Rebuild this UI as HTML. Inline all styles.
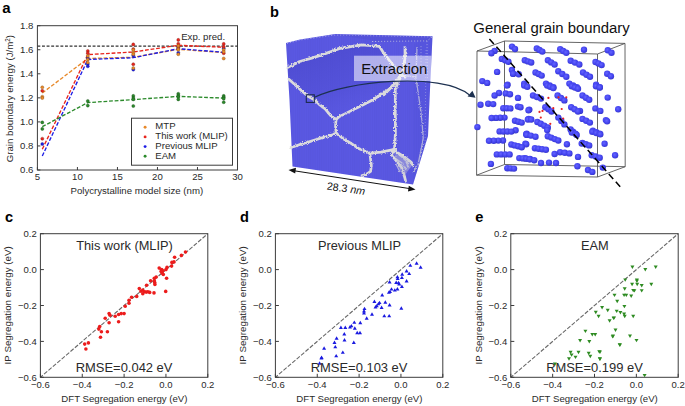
<!DOCTYPE html>
<html><head><meta charset="utf-8"><style>
html,body{margin:0;padding:0;background:#fff;}
svg{display:block;font-family:"Liberation Sans",sans-serif;}
</style></head><body>
<svg width="685" height="406" viewBox="0 0 685 406">
<defs>
<radialGradient id="sph" cx="0.42" cy="0.4" r="0.62"><stop offset="0" stop-color="#6464ff"/><stop offset="0.6" stop-color="#4545f0"/><stop offset="0.9" stop-color="#3a3ad8"/><stop offset="1" stop-color="#3030c0"/></radialGradient>
<pattern id="stripes" width="2.2" height="4" patternUnits="userSpaceOnUse"><rect width="1.1" height="4" fill="#3c3ab0" opacity="0.07"/></pattern>
<linearGradient id="grainAB" x1="0" y1="0" x2="0.4" y2="1"><stop offset="0" stop-color="#4240c0" stop-opacity="0.55"/><stop offset="0.7" stop-color="#4a48cc" stop-opacity="0.3"/><stop offset="1" stop-color="#5a58e2" stop-opacity="0.1"/></linearGradient>
<filter id="rough" x="-5%" y="-5%" width="110%" height="110%"><feTurbulence type="fractalNoise" baseFrequency="0.9" numOctaves="2" seed="4" result="n"/><feDisplacementMap in="SourceGraphic" in2="n" scale="3.2" xChannelSelector="R" yChannelSelector="G"/><feGaussianBlur stdDeviation="0.25"/></filter>
</defs>
<text x="37.40" y="180.10" font-size="9.6" text-anchor="middle" font-weight="400" fill="#2a2a2a" >5</text>
<text x="77.42" y="180.10" font-size="9.6" text-anchor="middle" font-weight="400" fill="#2a2a2a" >10</text>
<text x="117.44" y="180.10" font-size="9.6" text-anchor="middle" font-weight="400" fill="#2a2a2a" >15</text>
<text x="157.46" y="180.10" font-size="9.6" text-anchor="middle" font-weight="400" fill="#2a2a2a" >20</text>
<text x="197.48" y="180.10" font-size="9.6" text-anchor="middle" font-weight="400" fill="#2a2a2a" >25</text>
<text x="237.50" y="180.10" font-size="9.6" text-anchor="middle" font-weight="400" fill="#2a2a2a" >30</text>
<text x="33.40" y="173.45" font-size="9.6" text-anchor="end" font-weight="400" fill="#2a2a2a" >0.6</text>
<text x="33.40" y="149.40" font-size="9.6" text-anchor="end" font-weight="400" fill="#2a2a2a" >0.8</text>
<text x="33.40" y="125.35" font-size="9.6" text-anchor="end" font-weight="400" fill="#2a2a2a" >1.0</text>
<text x="33.40" y="101.30" font-size="9.6" text-anchor="end" font-weight="400" fill="#2a2a2a" >1.2</text>
<text x="33.40" y="77.25" font-size="9.6" text-anchor="end" font-weight="400" fill="#2a2a2a" >1.4</text>
<text x="33.40" y="53.20" font-size="9.6" text-anchor="end" font-weight="400" fill="#2a2a2a" >1.6</text>
<text x="33.40" y="29.15" font-size="9.6" text-anchor="end" font-weight="400" fill="#2a2a2a" >1.8</text>
<g stroke="#3c3c3c" stroke-width="1" fill="none"><line x1="37.40" y1="170.0" x2="37.40" y2="167.0" /><line x1="77.42" y1="170.0" x2="77.42" y2="167.0" /><line x1="117.44" y1="170.0" x2="117.44" y2="167.0" /><line x1="157.46" y1="170.0" x2="157.46" y2="167.0" /><line x1="197.48" y1="170.0" x2="197.48" y2="167.0" /><line x1="237.50" y1="170.0" x2="237.50" y2="167.0" /><line x1="37.4" y1="170.00" x2="40.4" y2="170.00" /><line x1="37.4" y1="145.95" x2="40.4" y2="145.95" /><line x1="37.4" y1="121.90" x2="40.4" y2="121.90" /><line x1="37.4" y1="97.85" x2="40.4" y2="97.85" /><line x1="37.4" y1="73.80" x2="40.4" y2="73.80" /><line x1="37.4" y1="49.75" x2="40.4" y2="49.75" /><line x1="37.4" y1="25.70" x2="40.4" y2="25.70" /><rect x="37.4" y="25.7" width="200.10" height="144.30"/></g>
<line x1="37.4" y1="46.1" x2="237.5" y2="46.1" stroke="#333" stroke-width="1.1" stroke-dasharray="2.9 1.7"/>
<text x="181.20" y="39.70" font-size="9.65" text-anchor="start" font-weight="400" fill="#2a2a2a" >Exp. pred.</text>
<path d="M42.3,93.0 L87.8,58.5 L133.3,57.3 L178.3,49.3 L223.7,52.6" fill="none" stroke="#e8892a" stroke-width="1.35" stroke-dasharray="3.8 1.8"/>
<path d="M42.3,149.2 L87.8,54.6 L133.3,52.0 L178.3,45.3 L223.7,47.3" fill="none" stroke="#e8251d" stroke-width="1.35" stroke-dasharray="3.8 1.8"/>
<path d="M42.3,156.0 L87.8,59.5 L133.3,57.7 L178.3,48.7 L223.7,52.3" fill="none" stroke="#1c1ce6" stroke-width="1.35" stroke-dasharray="3.8 1.8"/>
<path d="M42.3,126.7 L87.8,102.6 L133.3,99.6 L178.3,96.4 L223.7,98.1" fill="none" stroke="#2b8a2b" stroke-width="1.35" stroke-dasharray="3.8 1.8"/>
<circle cx="42.3" cy="122.4" r="1.55" fill="#2b8a2b" stroke="#1a4a1a" stroke-width="0.45" stroke-opacity="0.8"/><circle cx="42.3" cy="128.9" r="1.55" fill="#2b8a2b" stroke="#1a4a1a" stroke-width="0.45" stroke-opacity="0.8"/><circle cx="87.8" cy="101" r="1.55" fill="#2b8a2b" stroke="#1a4a1a" stroke-width="0.45" stroke-opacity="0.8"/><circle cx="87.8" cy="105.6" r="1.55" fill="#2b8a2b" stroke="#1a4a1a" stroke-width="0.45" stroke-opacity="0.8"/><circle cx="133.3" cy="95.9" r="1.55" fill="#2b8a2b" stroke="#1a4a1a" stroke-width="0.45" stroke-opacity="0.8"/><circle cx="133.3" cy="98.1" r="1.55" fill="#2b8a2b" stroke="#1a4a1a" stroke-width="0.45" stroke-opacity="0.8"/><circle cx="133.3" cy="99.4" r="1.55" fill="#2b8a2b" stroke="#1a4a1a" stroke-width="0.45" stroke-opacity="0.8"/><circle cx="133.3" cy="106" r="1.55" fill="#2b8a2b" stroke="#1a4a1a" stroke-width="0.45" stroke-opacity="0.8"/><circle cx="178.3" cy="93.8" r="1.55" fill="#2b8a2b" stroke="#1a4a1a" stroke-width="0.45" stroke-opacity="0.8"/><circle cx="178.3" cy="95.5" r="1.55" fill="#2b8a2b" stroke="#1a4a1a" stroke-width="0.45" stroke-opacity="0.8"/><circle cx="178.3" cy="96.9" r="1.55" fill="#2b8a2b" stroke="#1a4a1a" stroke-width="0.45" stroke-opacity="0.8"/><circle cx="178.3" cy="99.4" r="1.55" fill="#2b8a2b" stroke="#1a4a1a" stroke-width="0.45" stroke-opacity="0.8"/><circle cx="223.7" cy="95.9" r="1.55" fill="#2b8a2b" stroke="#1a4a1a" stroke-width="0.45" stroke-opacity="0.8"/><circle cx="223.7" cy="97.3" r="1.55" fill="#2b8a2b" stroke="#1a4a1a" stroke-width="0.45" stroke-opacity="0.8"/><circle cx="223.7" cy="98.7" r="1.55" fill="#2b8a2b" stroke="#1a4a1a" stroke-width="0.45" stroke-opacity="0.8"/><circle cx="223.7" cy="102.2" r="1.55" fill="#2b8a2b" stroke="#1a4a1a" stroke-width="0.45" stroke-opacity="0.8"/>
<circle cx="42.3" cy="144" r="1.55" fill="#1c1ce6" stroke="#14147a" stroke-width="0.45" stroke-opacity="0.8"/><circle cx="87.8" cy="58" r="1.55" fill="#1c1ce6" stroke="#14147a" stroke-width="0.45" stroke-opacity="0.8"/><circle cx="87.8" cy="64" r="1.55" fill="#1c1ce6" stroke="#14147a" stroke-width="0.45" stroke-opacity="0.8"/><circle cx="87.8" cy="66.3" r="1.55" fill="#1c1ce6" stroke="#14147a" stroke-width="0.45" stroke-opacity="0.8"/><circle cx="133.3" cy="55.5" r="1.55" fill="#1c1ce6" stroke="#14147a" stroke-width="0.45" stroke-opacity="0.8"/><circle cx="133.3" cy="69.6" r="1.55" fill="#1c1ce6" stroke="#14147a" stroke-width="0.45" stroke-opacity="0.8"/><circle cx="178.3" cy="47.5" r="1.55" fill="#1c1ce6" stroke="#14147a" stroke-width="0.45" stroke-opacity="0.8"/><circle cx="178.3" cy="52.7" r="1.55" fill="#1c1ce6" stroke="#14147a" stroke-width="0.45" stroke-opacity="0.8"/><circle cx="223.7" cy="48.3" r="1.55" fill="#1c1ce6" stroke="#14147a" stroke-width="0.45" stroke-opacity="0.8"/>
<circle cx="42.3" cy="90.8" r="1.55" fill="#e8251d" stroke="#7a1a14" stroke-width="0.45" stroke-opacity="0.8"/><circle cx="42.3" cy="138.7" r="1.55" fill="#e8251d" stroke="#7a1a14" stroke-width="0.45" stroke-opacity="0.8"/><circle cx="87.8" cy="51" r="1.55" fill="#e8251d" stroke="#7a1a14" stroke-width="0.45" stroke-opacity="0.8"/><circle cx="87.8" cy="53.2" r="1.55" fill="#e8251d" stroke="#7a1a14" stroke-width="0.45" stroke-opacity="0.8"/><circle cx="133.3" cy="44.4" r="1.55" fill="#e8251d" stroke="#7a1a14" stroke-width="0.45" stroke-opacity="0.8"/><circle cx="133.3" cy="49" r="1.55" fill="#e8251d" stroke="#7a1a14" stroke-width="0.45" stroke-opacity="0.8"/><circle cx="133.3" cy="64.2" r="1.55" fill="#e8251d" stroke="#7a1a14" stroke-width="0.45" stroke-opacity="0.8"/><circle cx="178.3" cy="39.9" r="1.55" fill="#e8251d" stroke="#7a1a14" stroke-width="0.45" stroke-opacity="0.8"/><circle cx="178.3" cy="43.8" r="1.55" fill="#e8251d" stroke="#7a1a14" stroke-width="0.45" stroke-opacity="0.8"/><circle cx="178.3" cy="46.8" r="1.55" fill="#e8251d" stroke="#7a1a14" stroke-width="0.45" stroke-opacity="0.8"/><circle cx="223.7" cy="43.9" r="1.55" fill="#e8251d" stroke="#7a1a14" stroke-width="0.45" stroke-opacity="0.8"/><circle cx="223.7" cy="46.8" r="1.55" fill="#e8251d" stroke="#7a1a14" stroke-width="0.45" stroke-opacity="0.8"/><circle cx="223.7" cy="53.2" r="1.55" fill="#e8251d" stroke="#7a1a14" stroke-width="0.45" stroke-opacity="0.8"/>
<circle cx="42.3" cy="87.3" r="1.55" fill="#e8892a" stroke="#7a4a14" stroke-width="0.45" stroke-opacity="0.8"/><circle cx="42.3" cy="96.7" r="1.55" fill="#e8892a" stroke="#7a4a14" stroke-width="0.45" stroke-opacity="0.8"/><circle cx="42.3" cy="98.0" r="1.55" fill="#e8892a" stroke="#7a4a14" stroke-width="0.45" stroke-opacity="0.8"/><circle cx="87.8" cy="56" r="1.55" fill="#e8892a" stroke="#7a4a14" stroke-width="0.45" stroke-opacity="0.8"/><circle cx="87.8" cy="59.5" r="1.55" fill="#e8892a" stroke="#7a4a14" stroke-width="0.45" stroke-opacity="0.8"/><circle cx="87.8" cy="62.5" r="1.55" fill="#e8892a" stroke="#7a4a14" stroke-width="0.45" stroke-opacity="0.8"/><circle cx="133.3" cy="49.9" r="1.55" fill="#e8892a" stroke="#7a4a14" stroke-width="0.45" stroke-opacity="0.8"/><circle cx="133.3" cy="52.8" r="1.55" fill="#e8892a" stroke="#7a4a14" stroke-width="0.45" stroke-opacity="0.8"/><circle cx="133.3" cy="54.3" r="1.55" fill="#e8892a" stroke="#7a4a14" stroke-width="0.45" stroke-opacity="0.8"/><circle cx="133.3" cy="68.1" r="1.55" fill="#e8892a" stroke="#7a4a14" stroke-width="0.45" stroke-opacity="0.8"/><circle cx="178.3" cy="45.8" r="1.55" fill="#e8892a" stroke="#7a4a14" stroke-width="0.45" stroke-opacity="0.8"/><circle cx="178.3" cy="48.8" r="1.55" fill="#e8892a" stroke="#7a4a14" stroke-width="0.45" stroke-opacity="0.8"/><circle cx="178.3" cy="49.7" r="1.55" fill="#e8892a" stroke="#7a4a14" stroke-width="0.45" stroke-opacity="0.8"/><circle cx="178.3" cy="54.2" r="1.55" fill="#e8892a" stroke="#7a4a14" stroke-width="0.45" stroke-opacity="0.8"/><circle cx="223.7" cy="49.8" r="1.55" fill="#e8892a" stroke="#7a4a14" stroke-width="0.45" stroke-opacity="0.8"/><circle cx="223.7" cy="51.8" r="1.55" fill="#e8892a" stroke="#7a4a14" stroke-width="0.45" stroke-opacity="0.8"/><circle cx="223.7" cy="58.5" r="1.55" fill="#e8892a" stroke="#7a4a14" stroke-width="0.45" stroke-opacity="0.8"/>
<rect x="131.5" y="118.2" width="101" height="47" fill="#fff" stroke="#3c3c3c" stroke-width="1"/>
<circle cx="145.1" cy="127.2" r="1.45" fill="#e8892a"/>
<text x="155.30" y="129.10" font-size="9.6" text-anchor="start" font-weight="400" fill="#2a2a2a" >MTP</text>
<circle cx="145.1" cy="136.9" r="1.45" fill="#e8251d"/>
<text x="155.30" y="139.17" font-size="9.6" text-anchor="start" font-weight="400" fill="#2a2a2a" >This work (MLIP)</text>
<circle cx="145.1" cy="146.6" r="1.45" fill="#1c1ce6"/>
<text x="155.30" y="149.24" font-size="9.6" text-anchor="start" font-weight="400" fill="#2a2a2a" >Previous MLIP</text>
<circle cx="145.1" cy="156.3" r="1.45" fill="#2b8a2b"/>
<text x="155.30" y="159.31" font-size="9.6" text-anchor="start" font-weight="400" fill="#2a2a2a" >EAM</text>
<text x="136.80" y="194.20" font-size="9.65" text-anchor="middle" font-weight="400" fill="#2a2a2a" >Polycrystalline model size (nm)</text>
<text transform="translate(12.9,98.6) rotate(-90)" font-size="9.7" text-anchor="middle" fill="#2a2a2a">Grain boundary energy (J/m<tspan font-size="6.3" dy="-3.4">2</tspan><tspan dy="3.4">)</tspan></text>
<text x="2.20" y="12.70" font-size="15" text-anchor="start" font-weight="700" fill="#000" >a</text>
<text x="270.00" y="17.00" font-size="14.6" text-anchor="start" font-weight="700" fill="#000" >b</text>
<text x="40.40" y="388.30" font-size="9.5" text-anchor="middle" font-weight="400" fill="#2a2a2a" >−0.6</text>
<text x="36.80" y="380.70" font-size="9.5" text-anchor="end" font-weight="400" fill="#2a2a2a" >−0.6</text>
<text x="82.25" y="388.30" font-size="9.5" text-anchor="middle" font-weight="400" fill="#2a2a2a" >−0.4</text>
<text x="36.80" y="344.80" font-size="9.5" text-anchor="end" font-weight="400" fill="#2a2a2a" >−0.4</text>
<text x="124.10" y="388.30" font-size="9.5" text-anchor="middle" font-weight="400" fill="#2a2a2a" >−0.2</text>
<text x="36.80" y="308.90" font-size="9.5" text-anchor="end" font-weight="400" fill="#2a2a2a" >−0.2</text>
<text x="165.95" y="388.30" font-size="9.5" text-anchor="middle" font-weight="400" fill="#2a2a2a" >0.0</text>
<text x="36.80" y="273.00" font-size="9.5" text-anchor="end" font-weight="400" fill="#2a2a2a" >0.0</text>
<text x="207.80" y="388.30" font-size="9.5" text-anchor="middle" font-weight="400" fill="#2a2a2a" >0.2</text>
<text x="36.80" y="237.10" font-size="9.5" text-anchor="end" font-weight="400" fill="#2a2a2a" >0.2</text>
<line x1="40.4" y1="377.3" x2="207.8" y2="233.7" stroke="#686868" stroke-width="1.1" stroke-dasharray="4.2 1.6" stroke-dashoffset="1.0"/>
<g stroke="#3c3c3c" stroke-width="1" fill="none"><line x1="40.40" y1="377.3" x2="40.40" y2="373.8"/><line x1="40.4" y1="377.30" x2="43.9" y2="377.30"/><line x1="82.25" y1="377.3" x2="82.25" y2="373.8"/><line x1="40.4" y1="341.40" x2="43.9" y2="341.40"/><line x1="124.10" y1="377.3" x2="124.10" y2="373.8"/><line x1="40.4" y1="305.50" x2="43.9" y2="305.50"/><line x1="165.95" y1="377.3" x2="165.95" y2="373.8"/><line x1="40.4" y1="269.60" x2="43.9" y2="269.60"/><line x1="207.80" y1="377.3" x2="207.80" y2="373.8"/><line x1="40.4" y1="233.70" x2="43.9" y2="233.70"/><rect x="40.4" y="233.7" width="167.40" height="143.60"/></g>
<circle cx="185.5" cy="252.0" r="1.8" fill="#ec1c1c"/><circle cx="181.4" cy="255.4" r="1.8" fill="#ec1c1c"/><circle cx="174.6" cy="257.2" r="1.8" fill="#ec1c1c"/><circle cx="174.0" cy="261.9" r="1.8" fill="#ec1c1c"/><circle cx="171.9" cy="262.4" r="1.8" fill="#ec1c1c"/><circle cx="171.6" cy="266.1" r="1.8" fill="#ec1c1c"/><circle cx="167.0" cy="267.4" r="1.8" fill="#ec1c1c"/><circle cx="166.0" cy="269.6" r="1.8" fill="#ec1c1c"/><circle cx="159.2" cy="268.1" r="1.8" fill="#ec1c1c"/><circle cx="161.7" cy="269.6" r="1.8" fill="#ec1c1c"/><circle cx="162.9" cy="270.8" r="1.8" fill="#ec1c1c"/><circle cx="161.1" cy="271.4" r="1.8" fill="#ec1c1c"/><circle cx="162.3" cy="273.3" r="1.8" fill="#ec1c1c"/><circle cx="163.3" cy="274.5" r="1.8" fill="#ec1c1c"/><circle cx="166.6" cy="278.2" r="1.8" fill="#ec1c1c"/><circle cx="156.2" cy="277.0" r="1.8" fill="#ec1c1c"/><circle cx="154.3" cy="278.2" r="1.8" fill="#ec1c1c"/><circle cx="154.3" cy="280.7" r="1.8" fill="#ec1c1c"/><circle cx="154.7" cy="282.5" r="1.8" fill="#ec1c1c"/><circle cx="154.9" cy="284.4" r="1.8" fill="#ec1c1c"/><circle cx="150.6" cy="280.7" r="1.8" fill="#ec1c1c"/><circle cx="165.7" cy="291.4" r="1.8" fill="#ec1c1c"/><circle cx="154.0" cy="292.9" r="1.8" fill="#ec1c1c"/><circle cx="139.3" cy="288.6" r="1.8" fill="#ec1c1c"/><circle cx="141.0" cy="291.2" r="1.8" fill="#ec1c1c"/><circle cx="142.8" cy="293.8" r="1.8" fill="#ec1c1c"/><circle cx="146.2" cy="292.1" r="1.8" fill="#ec1c1c"/><circle cx="149.7" cy="292.4" r="1.8" fill="#ec1c1c"/><circle cx="136.7" cy="296.4" r="1.8" fill="#ec1c1c"/><circle cx="131.6" cy="297.2" r="1.8" fill="#ec1c1c"/><circle cx="129.0" cy="300.3" r="1.8" fill="#ec1c1c"/><circle cx="129.0" cy="303.3" r="1.8" fill="#ec1c1c"/><circle cx="125.2" cy="306.2" r="1.8" fill="#ec1c1c"/><circle cx="109.1" cy="313.6" r="1.8" fill="#ec1c1c"/><circle cx="110.0" cy="315.3" r="1.8" fill="#ec1c1c"/><circle cx="115.2" cy="316.2" r="1.8" fill="#ec1c1c"/><circle cx="118.6" cy="314.5" r="1.8" fill="#ec1c1c"/><circle cx="121.2" cy="313.6" r="1.8" fill="#ec1c1c"/><circle cx="124.1" cy="313.6" r="1.8" fill="#ec1c1c"/><circle cx="105.2" cy="318.3" r="1.8" fill="#ec1c1c"/><circle cx="109.1" cy="322.8" r="1.8" fill="#ec1c1c"/><circle cx="118.6" cy="321.7" r="1.8" fill="#ec1c1c"/><circle cx="99.7" cy="326.6" r="1.8" fill="#ec1c1c"/><circle cx="98.8" cy="329.1" r="1.8" fill="#ec1c1c"/><circle cx="101.4" cy="331.7" r="1.8" fill="#ec1c1c"/><circle cx="107.4" cy="331.7" r="1.8" fill="#ec1c1c"/><circle cx="100.5" cy="337.2" r="1.8" fill="#ec1c1c"/><circle cx="88.4" cy="342.9" r="1.8" fill="#ec1c1c"/><circle cx="84.7" cy="344.1" r="1.8" fill="#ec1c1c"/><circle cx="85.9" cy="349.0" r="1.8" fill="#ec1c1c"/><circle cx="146.6" cy="285.3" r="1.8" fill="#ec1c1c"/><circle cx="142.8" cy="290.0" r="1.8" fill="#ec1c1c"/><circle cx="144.5" cy="291.7" r="1.8" fill="#ec1c1c"/><circle cx="147.9" cy="291.7" r="1.8" fill="#ec1c1c"/>
<text x="124.50" y="250.20" font-size="12.8" text-anchor="middle" font-weight="400" fill="#2a2a2a" >This work (MLIP)</text>
<text x="124.10" y="372.20" font-size="12.95" text-anchor="middle" font-weight="400" fill="#2a2a2a" >RMSE=0.042 eV</text>
<text x="124.40" y="402.20" font-size="9.65" text-anchor="middle" font-weight="400" fill="#2a2a2a" >DFT Segregation energy (eV)</text>
<text transform="translate(11.10,305.30) rotate(-90)" font-size="9.78" text-anchor="middle" fill="#2a2a2a">IP Segregation energy (eV)</text>
<text x="4.90" y="221.90" font-size="14.6" text-anchor="start" font-weight="700" fill="#000" >c</text>
<text x="275.40" y="388.30" font-size="9.5" text-anchor="middle" font-weight="400" fill="#2a2a2a" >−0.6</text>
<text x="271.80" y="380.70" font-size="9.5" text-anchor="end" font-weight="400" fill="#2a2a2a" >−0.6</text>
<text x="317.25" y="388.30" font-size="9.5" text-anchor="middle" font-weight="400" fill="#2a2a2a" >−0.4</text>
<text x="271.80" y="344.80" font-size="9.5" text-anchor="end" font-weight="400" fill="#2a2a2a" >−0.4</text>
<text x="359.10" y="388.30" font-size="9.5" text-anchor="middle" font-weight="400" fill="#2a2a2a" >−0.2</text>
<text x="271.80" y="308.90" font-size="9.5" text-anchor="end" font-weight="400" fill="#2a2a2a" >−0.2</text>
<text x="400.95" y="388.30" font-size="9.5" text-anchor="middle" font-weight="400" fill="#2a2a2a" >0.0</text>
<text x="271.80" y="273.00" font-size="9.5" text-anchor="end" font-weight="400" fill="#2a2a2a" >0.0</text>
<text x="442.80" y="388.30" font-size="9.5" text-anchor="middle" font-weight="400" fill="#2a2a2a" >0.2</text>
<text x="271.80" y="237.10" font-size="9.5" text-anchor="end" font-weight="400" fill="#2a2a2a" >0.2</text>
<line x1="275.4" y1="377.3" x2="442.79999999999995" y2="233.7" stroke="#686868" stroke-width="1.1" stroke-dasharray="4.2 1.6" stroke-dashoffset="1.0"/>
<g stroke="#3c3c3c" stroke-width="1" fill="none"><line x1="275.40" y1="377.3" x2="275.40" y2="373.8"/><line x1="275.4" y1="377.30" x2="278.9" y2="377.30"/><line x1="317.25" y1="377.3" x2="317.25" y2="373.8"/><line x1="275.4" y1="341.40" x2="278.9" y2="341.40"/><line x1="359.10" y1="377.3" x2="359.10" y2="373.8"/><line x1="275.4" y1="305.50" x2="278.9" y2="305.50"/><line x1="400.95" y1="377.3" x2="400.95" y2="373.8"/><line x1="275.4" y1="269.60" x2="278.9" y2="269.60"/><line x1="442.80" y1="377.3" x2="442.80" y2="373.8"/><line x1="275.4" y1="233.70" x2="278.9" y2="233.70"/><rect x="275.4" y="233.7" width="167.40" height="143.60"/></g>
<path d="M416.6,261.3l2,3.4h-4z" fill="#1a1ae0"/><path d="M420.6,265.3l2,3.4h-4z" fill="#1a1ae0"/><path d="M410.3,263.4l2,3.4h-4z" fill="#1a1ae0"/><path d="M406.6,269.0l2,3.4h-4z" fill="#1a1ae0"/><path d="M409.2,271.7l2,3.4h-4z" fill="#1a1ae0"/><path d="M402.2,272.3l2,3.4h-4z" fill="#1a1ae0"/><path d="M401.9,275.7l2,3.4h-4z" fill="#1a1ae0"/><path d="M397.4,274.9l2,3.4h-4z" fill="#1a1ae0"/><path d="M397.7,276.7l2,3.4h-4z" fill="#1a1ae0"/><path d="M406.6,279.1l2,3.4h-4z" fill="#1a1ae0"/><path d="M396.2,280.5l2,3.4h-4z" fill="#1a1ae0"/><path d="M398.5,280.8l2,3.4h-4z" fill="#1a1ae0"/><path d="M399.2,282.0l2,3.4h-4z" fill="#1a1ae0"/><path d="M401.9,284.5l2,3.4h-4z" fill="#1a1ae0"/><path d="M389.6,280.1l2,3.4h-4z" fill="#1a1ae0"/><path d="M397.4,287.0l2,3.4h-4z" fill="#1a1ae0"/><path d="M394.8,288.2l2,3.4h-4z" fill="#1a1ae0"/><path d="M391.5,287.2l2,3.4h-4z" fill="#1a1ae0"/><path d="M390.0,289.7l2,3.4h-4z" fill="#1a1ae0"/><path d="M388.9,290.4l2,3.4h-4z" fill="#1a1ae0"/><path d="M382.2,293.1l2,3.4h-4z" fill="#1a1ae0"/><path d="M374.4,299.5l2,3.4h-4z" fill="#1a1ae0"/><path d="M379.5,300.7l2,3.4h-4z" fill="#1a1ae0"/><path d="M378.4,301.9l2,3.4h-4z" fill="#1a1ae0"/><path d="M385.3,300.3l2,3.4h-4z" fill="#1a1ae0"/><path d="M376.8,303.9l2,3.4h-4z" fill="#1a1ae0"/><path d="M375.5,305.1l2,3.4h-4z" fill="#1a1ae0"/><path d="M381.6,305.5l2,3.4h-4z" fill="#1a1ae0"/><path d="M389.6,303.0l2,3.4h-4z" fill="#1a1ae0"/><path d="M401.3,306.3l2,3.4h-4z" fill="#1a1ae0"/><path d="M364.5,306.7l2,3.4h-4z" fill="#1a1ae0"/><path d="M364.0,309.1l2,3.4h-4z" fill="#1a1ae0"/><path d="M364.0,311.0l2,3.4h-4z" fill="#1a1ae0"/><path d="M372.0,312.3l2,3.4h-4z" fill="#1a1ae0"/><path d="M384.3,313.9l2,3.4h-4z" fill="#1a1ae0"/><path d="M389.2,313.9l2,3.4h-4z" fill="#1a1ae0"/><path d="M366.7,316.3l2,3.4h-4z" fill="#1a1ae0"/><path d="M360.3,320.8l2,3.4h-4z" fill="#1a1ae0"/><path d="M354.3,320.4l2,3.4h-4z" fill="#1a1ae0"/><path d="M351.4,323.9l2,3.4h-4z" fill="#1a1ae0"/><path d="M350.0,325.1l2,3.4h-4z" fill="#1a1ae0"/><path d="M354.8,326.3l2,3.4h-4z" fill="#1a1ae0"/><path d="M345.3,325.6l2,3.4h-4z" fill="#1a1ae0"/><path d="M340.9,325.6l2,3.4h-4z" fill="#1a1ae0"/><path d="M357.2,330.8l2,3.4h-4z" fill="#1a1ae0"/><path d="M360.0,330.8l2,3.4h-4z" fill="#1a1ae0"/><path d="M344.3,332.0l2,3.4h-4z" fill="#1a1ae0"/><path d="M344.5,338.0l2,3.4h-4z" fill="#1a1ae0"/><path d="M336.6,336.3l2,3.4h-4z" fill="#1a1ae0"/><path d="M334.5,340.6l2,3.4h-4z" fill="#1a1ae0"/><path d="M335.3,344.9l2,3.4h-4z" fill="#1a1ae0"/><path d="M353.8,340.6l2,3.4h-4z" fill="#1a1ae0"/><path d="M324.1,346.3l2,3.4h-4z" fill="#1a1ae0"/><path d="M342.8,350.4l2,3.4h-4z" fill="#1a1ae0"/><path d="M336.2,353.9l2,3.4h-4z" fill="#1a1ae0"/><path d="M321.6,355.6l2,3.4h-4z" fill="#1a1ae0"/><path d="M321.4,356.1l2,3.4h-4z" fill="#1a1ae0"/><path d="M319.6,361.3l2,3.4h-4z" fill="#1a1ae0"/>
<text x="359.50" y="250.20" font-size="12.8" text-anchor="middle" font-weight="400" fill="#2a2a2a" >Previous MLIP</text>
<text x="359.10" y="372.20" font-size="12.95" text-anchor="middle" font-weight="400" fill="#2a2a2a" >RMSE=0.103 eV</text>
<text x="359.40" y="402.20" font-size="9.65" text-anchor="middle" font-weight="400" fill="#2a2a2a" >DFT Segregation energy (eV)</text>
<text transform="translate(246.10,305.30) rotate(-90)" font-size="9.78" text-anchor="middle" fill="#2a2a2a">IP Segregation energy (eV)</text>
<text x="239.90" y="221.90" font-size="14.6" text-anchor="start" font-weight="700" fill="#000" >d</text>
<text x="510.80" y="388.30" font-size="9.5" text-anchor="middle" font-weight="400" fill="#2a2a2a" >−0.6</text>
<text x="507.20" y="380.70" font-size="9.5" text-anchor="end" font-weight="400" fill="#2a2a2a" >−0.6</text>
<text x="552.65" y="388.30" font-size="9.5" text-anchor="middle" font-weight="400" fill="#2a2a2a" >−0.4</text>
<text x="507.20" y="344.80" font-size="9.5" text-anchor="end" font-weight="400" fill="#2a2a2a" >−0.4</text>
<text x="594.50" y="388.30" font-size="9.5" text-anchor="middle" font-weight="400" fill="#2a2a2a" >−0.2</text>
<text x="507.20" y="308.90" font-size="9.5" text-anchor="end" font-weight="400" fill="#2a2a2a" >−0.2</text>
<text x="636.35" y="388.30" font-size="9.5" text-anchor="middle" font-weight="400" fill="#2a2a2a" >0.0</text>
<text x="507.20" y="273.00" font-size="9.5" text-anchor="end" font-weight="400" fill="#2a2a2a" >0.0</text>
<text x="678.20" y="388.30" font-size="9.5" text-anchor="middle" font-weight="400" fill="#2a2a2a" >0.2</text>
<text x="507.20" y="237.10" font-size="9.5" text-anchor="end" font-weight="400" fill="#2a2a2a" >0.2</text>
<line x1="510.8" y1="377.3" x2="678.2" y2="233.7" stroke="#686868" stroke-width="1.1" stroke-dasharray="4.2 1.6" stroke-dashoffset="1.0"/>
<g stroke="#3c3c3c" stroke-width="1" fill="none"><line x1="510.80" y1="377.3" x2="510.80" y2="373.8"/><line x1="510.8" y1="377.30" x2="514.3" y2="377.30"/><line x1="552.65" y1="377.3" x2="552.65" y2="373.8"/><line x1="510.8" y1="341.40" x2="514.3" y2="341.40"/><line x1="594.50" y1="377.3" x2="594.50" y2="373.8"/><line x1="510.8" y1="305.50" x2="514.3" y2="305.50"/><line x1="636.35" y1="377.3" x2="636.35" y2="373.8"/><line x1="510.8" y1="269.60" x2="514.3" y2="269.60"/><line x1="678.20" y1="377.3" x2="678.20" y2="373.8"/><line x1="510.8" y1="233.70" x2="514.3" y2="233.70"/><rect x="510.8" y="233.7" width="167.40" height="143.60"/></g>
<path d="M632.4,269.0l2,-3.4h-4z" fill="#2e8b22"/><path d="M655.7,269.0l2,-3.4h-4z" fill="#2e8b22"/><path d="M645.3,271.4l2,-3.4h-4z" fill="#2e8b22"/><path d="M636.9,281.8l2,-3.4h-4z" fill="#2e8b22"/><path d="M625.2,281.8l2,-3.4h-4z" fill="#2e8b22"/><path d="M636.9,283.0l2,-3.4h-4z" fill="#2e8b22"/><path d="M632.1,286.2l2,-3.4h-4z" fill="#2e8b22"/><path d="M637.2,286.2l2,-3.4h-4z" fill="#2e8b22"/><path d="M641.7,287.4l2,-3.4h-4z" fill="#2e8b22"/><path d="M651.3,286.2l2,-3.4h-4z" fill="#2e8b22"/><path d="M624.7,290.7l2,-3.4h-4z" fill="#2e8b22"/><path d="M633.2,292.3l2,-3.4h-4z" fill="#2e8b22"/><path d="M634.4,292.6l2,-3.4h-4z" fill="#2e8b22"/><path d="M641.7,292.6l2,-3.4h-4z" fill="#2e8b22"/><path d="M614.5,297.1l2,-3.4h-4z" fill="#2e8b22"/><path d="M624.1,297.1l2,-3.4h-4z" fill="#2e8b22"/><path d="M626.3,297.1l2,-3.4h-4z" fill="#2e8b22"/><path d="M631.2,297.9l2,-3.4h-4z" fill="#2e8b22"/><path d="M617.2,303.2l2,-3.4h-4z" fill="#2e8b22"/><path d="M624.4,308.3l2,-3.4h-4z" fill="#2e8b22"/><path d="M616.7,313.1l2,-3.4h-4z" fill="#2e8b22"/><path d="M620.4,314.4l2,-3.4h-4z" fill="#2e8b22"/><path d="M624.1,316.0l2,-3.4h-4z" fill="#2e8b22"/><path d="M624.7,318.2l2,-3.4h-4z" fill="#2e8b22"/><path d="M633.2,318.2l2,-3.4h-4z" fill="#2e8b22"/><path d="M614.0,319.8l2,-3.4h-4z" fill="#2e8b22"/><path d="M602.1,309.5l2,-3.4h-4z" fill="#2e8b22"/><path d="M607.7,312.2l2,-3.4h-4z" fill="#2e8b22"/><path d="M595.8,314.2l2,-3.4h-4z" fill="#2e8b22"/><path d="M598.6,318.2l2,-3.4h-4z" fill="#2e8b22"/><path d="M613.6,320.1l2,-3.4h-4z" fill="#2e8b22"/><path d="M609.6,322.7l2,-3.4h-4z" fill="#2e8b22"/><path d="M585.4,333.1l2,-3.4h-4z" fill="#2e8b22"/><path d="M615.5,332.0l2,-3.4h-4z" fill="#2e8b22"/><path d="M592.3,336.5l2,-3.4h-4z" fill="#2e8b22"/><path d="M595.2,336.5l2,-3.4h-4z" fill="#2e8b22"/><path d="M613.0,337.9l2,-3.4h-4z" fill="#2e8b22"/><path d="M580.1,342.4l2,-3.4h-4z" fill="#2e8b22"/><path d="M589.3,343.4l2,-3.4h-4z" fill="#2e8b22"/><path d="M619.9,346.9l2,-3.4h-4z" fill="#2e8b22"/><path d="M570.6,354.2l2,-3.4h-4z" fill="#2e8b22"/><path d="M578.5,354.2l2,-3.4h-4z" fill="#2e8b22"/><path d="M571.6,356.8l2,-3.4h-4z" fill="#2e8b22"/><path d="M575.5,359.1l2,-3.4h-4z" fill="#2e8b22"/><path d="M588.7,355.2l2,-3.4h-4z" fill="#2e8b22"/><path d="M590.3,358.2l2,-3.4h-4z" fill="#2e8b22"/><path d="M599.2,353.6l2,-3.4h-4z" fill="#2e8b22"/><path d="M599.8,360.7l2,-3.4h-4z" fill="#2e8b22"/><path d="M569.0,360.7l2,-3.4h-4z" fill="#2e8b22"/><path d="M554.9,366.0l2,-3.4h-4z" fill="#2e8b22"/><path d="M612.7,338.6l2,-3.4h-4z" fill="#2e8b22"/><path d="M630.0,338.0l2,-3.4h-4z" fill="#2e8b22"/><path d="M636.5,342.3l2,-3.4h-4z" fill="#2e8b22"/><path d="M619.7,346.6l2,-3.4h-4z" fill="#2e8b22"/><path d="M644.6,377.3l2,-3.4h-4z" fill="#2e8b22"/><path d="M600.0,354.0l2,-3.4h-4z" fill="#2e8b22"/><path d="M600.0,361.0l2,-3.4h-4z" fill="#2e8b22"/>
<text x="594.90" y="250.20" font-size="12.8" text-anchor="middle" font-weight="400" fill="#2a2a2a" >EAM</text>
<text x="594.50" y="372.20" font-size="12.95" text-anchor="middle" font-weight="400" fill="#2a2a2a" >RMSE=0.199 eV</text>
<text x="594.80" y="402.20" font-size="9.65" text-anchor="middle" font-weight="400" fill="#2a2a2a" >DFT Segregation energy (eV)</text>
<text transform="translate(481.50,305.30) rotate(-90)" font-size="9.78" text-anchor="middle" fill="#2a2a2a">IP Segregation energy (eV)</text>
<text x="475.30" y="221.90" font-size="14.6" text-anchor="start" font-weight="700" fill="#000" >e</text>
<polygon points="286,43 300,39.5 335,34 432.5,36.2 429.5,100 428,136 413,184.5 292.5,166.5 289.5,100" fill="#5a58e2"/>
<polygon points="286,43 300,39.5 335,34 432.5,36.2 429.5,100 428,136 413,184.5 292.5,166.5 289.5,100" fill="url(#stripes)"/>
<polygon points="287.9,67.4 299.7,61.5 313.5,57.6 325.3,53.6 339.1,48.7 350.9,46.7 361.8,44.8 379.5,46.5 387.4,59.5 397.3,73.3 401.2,75.3 389.4,89.1 372.2,101.1 361.1,105.5 350.9,111.8 343,115.8 336.2,119.3 332.2,117.3 327.3,111.8 321.4,106 314.5,100.5 307.6,96 299.7,89.1 288.9,79.3" fill="url(#grainAB)"/>
<polygon points="414,44 432.5,36.2 429.5,100 428,136 413,184.5" fill="#4c4ad0" opacity="0.15"/>
<path d="M287,43.5 L300,40 L335,35 L432,37" fill="none" stroke="#b8b8ee" stroke-width="1" stroke-dasharray="1 2" opacity="0.8"/>
<path d="M372,41.5 L427,40.8 L432,37" fill="none" stroke="#c8c8e4" stroke-width="1" stroke-dasharray="1.2 1.8" opacity="0.8"/>
<path d="M427,41 L427.5,80 M421,46 L421,75" fill="none" stroke="#c8c8e4" stroke-width="0.9" stroke-dasharray="1.2 1.8" opacity="0.6"/>
<polygon points="335,34.5 432.5,36.5 427,41 380,41.5" fill="#4a48c8" opacity="0.25"/>
<g fill="none" stroke="#e2e2dc" stroke-width="2.7" stroke-linejoin="round" stroke-linecap="round" opacity="0.95" filter="url(#rough)"><path d="M287.9,67.4 L299.7,61.5 L313.5,57.6 L325.3,53.6 L339.1,48.7 L350.9,46.7 L361.8,44.8 L379.5,46.5"/><path d="M288.9,79.3 L299.7,89.1 L307.6,96.0 L314.8,100.0 L319.2,104.4 L325.1,108.9 L328.8,113.3 L331.8,117.0 L336.2,119.2"/><path d="M336.2,119.2 L339.9,116.3 L344.4,114.1 L350.3,111.1 L359.2,106.7 L366.6,103.0 L372.5,100.0 L389.4,89.1 L401.2,75.3"/><path d="M336.2,119.2 L335.5,125.9 L336.2,133.3"/><path d="M336.2,133.3 L329.6,135.5 L322.2,137.7 L314.8,140.0 L305.9,142.9 L300.0,144.4 L290.5,147.8"/><path d="M336.2,133.3 L342.9,138.5 L350.3,142.9 L359.2,148.8 L366.6,151.8 L370.0,153.2"/><path d="M370.0,153.2 L381.0,152.1 L392.1,149.9 L394.5,148.8"/><path d="M370.0,154.0 L370.6,159.6 L371.4,165.5 L370.6,171.4 L366.0,174.5 L362.0,175.5"/><path d="M394.5,148.8 L395.4,133.3 L395.3,110.0 L395.3,98.9 L395.3,89.1 L401.2,75.3"/><path d="M393.5,149.9 L397.5,152.6 L404.0,156.7 L411.0,162.0 L413.0,165.0"/><path d="M393.5,149.9 L392.0,155.3 L396.1,160.7 L401.6,167.5 L404.3,175.6 L405.6,181.0"/><path d="M379.2,46.1 L384.4,54.2 L390.3,61.6 L396.2,69.0 L400.7,74.2 L405.0,77.2"/><path d="M405.0,47.6 L405.0,57.2 L403.6,69.0 L400.7,75.0"/><path d="M400.7,75.0 L396.2,82.3 L390.3,88.3 L384.4,94.2"/></g>
<g fill="none" stroke="#d0d0dc" stroke-width="1.3" stroke-linejoin="round" opacity="0.7" filter="url(#rough)"><path d="M401.2,75.3 L408.0,76.0 L415.8,77.0 L419.5,101.6 L422.0,121.3 L423.2,138.5 L418.0,165.0 L413.0,172.0"/><path d="M417.0,47.0 L416.5,62.0 L415.8,77.0"/></g>
<g fill="none" stroke="#c8c8e8" stroke-width="0.8" stroke-dasharray="1 2" opacity="0.5"><path d="M426,50 L425,150"/></g>
<polygon points="394,153 402,155 410,160 412.5,165 407,172 403.5,178 399,168" fill="#c4c4d4" opacity="0.45" filter="url(#rough)"/>
<g fill="none" stroke="#d4d4dc" stroke-width="1.2" opacity="0.75" filter="url(#rough)"><path d="M395,158 L402,163 L406,170 M398,154 L405,160 L409,168 M396,164 L400,172 M402,157 L409,164"/></g>
<rect x="354" y="55.7" width="77.5" height="25.3" fill="#ffffff" opacity="0.55"/>
<text x="361.20" y="73.50" font-size="14.9" text-anchor="start" font-weight="400" fill="#111" >Extraction</text>
<rect x="306.3" y="94.8" width="8" height="7.6" fill="none" stroke="#1d2b4e" stroke-width="1.1"/>
<path d="M314.5,97.3 C344.6,81.8 441,71.2 469.5,95" fill="none" stroke="#1d3150" stroke-width="1.2"/>
<path d="M475.6,97.8 L467.6,96.4 L472.4,90.8 Z" fill="#1d3150"/>
<line x1="293" y1="170.6" x2="411" y2="188.8" stroke="#111" stroke-width="1"/>
<path d="M288.5,170 L296,167.8 L295.2,173.6 Z" fill="#111"/><path d="M415.5,189.5 L408,191.5 L408.8,185.8 Z" fill="#111"/>
<text transform="translate(326.4,189.6) rotate(7.8)" font-size="10.7" fill="#111">28.3 <tspan font-style="italic">nm</tspan></text>
<g stroke="#555" stroke-width="0.9"><line x1="477" y1="51" x2="597.5" y2="54"/><line x1="597.5" y1="54" x2="597.5" y2="177"/><line x1="597.5" y1="177" x2="476.6" y2="175.2"/><line x1="476.6" y1="175.2" x2="477" y2="51"/><line x1="504.5" y1="41" x2="625" y2="43.4"/><line x1="625" y1="43.4" x2="625.2" y2="166.7"/><line x1="625.2" y1="166.7" x2="504.5" y2="164.5"/><line x1="504.5" y1="164.5" x2="504.5" y2="41"/><line x1="477" y1="51" x2="504.5" y2="41"/><line x1="597.5" y1="54" x2="625" y2="43.4"/><line x1="597.5" y1="177" x2="625.2" y2="166.7"/><line x1="476.6" y1="175.2" x2="504.5" y2="164.5"/></g>
<text x="473.30" y="32.80" font-size="14.9" text-anchor="start" font-weight="400" fill="#111" >General grain boundary</text>
<g><circle cx="512.0" cy="46.6" r="3.2" fill="url(#sph)"/><circle cx="536.8" cy="48.5" r="3.2" fill="url(#sph)"/><circle cx="515.0" cy="49.0" r="3.2" fill="url(#sph)"/><circle cx="560.2" cy="49.1" r="3.2" fill="url(#sph)"/><circle cx="584.0" cy="49.7" r="3.2" fill="url(#sph)"/><circle cx="539.5" cy="50.0" r="3.2" fill="url(#sph)"/><circle cx="607.8" cy="50.3" r="3.2" fill="url(#sph)"/><circle cx="494.6" cy="50.9" r="3.2" fill="url(#sph)"/><circle cx="563.2" cy="51.0" r="3.2" fill="url(#sph)"/><circle cx="542.3" cy="51.6" r="3.2" fill="url(#sph)"/><circle cx="566.3" cy="52.8" r="3.2" fill="url(#sph)"/><circle cx="611.5" cy="52.8" r="3.2" fill="url(#sph)"/><circle cx="491.4" cy="53.2" r="3.2" fill="url(#sph)"/><circle cx="501.8" cy="58.9" r="3.2" fill="url(#sph)"/><circle cx="524.8" cy="60.2" r="3.2" fill="url(#sph)"/><circle cx="547.9" cy="60.2" r="3.2" fill="url(#sph)"/><circle cx="505.1" cy="60.3" r="3.2" fill="url(#sph)"/><circle cx="570.7" cy="60.8" r="3.2" fill="url(#sph)"/><circle cx="528.0" cy="61.4" r="3.2" fill="url(#sph)"/><circle cx="508.4" cy="61.7" r="3.2" fill="url(#sph)"/><circle cx="595.5" cy="62.0" r="3.2" fill="url(#sph)"/><circle cx="551.2" cy="62.4" r="3.2" fill="url(#sph)"/><circle cx="531.2" cy="62.5" r="3.2" fill="url(#sph)"/><circle cx="575.0" cy="62.6" r="3.2" fill="url(#sph)"/><circle cx="598.5" cy="63.5" r="3.2" fill="url(#sph)"/><circle cx="554.6" cy="64.5" r="3.2" fill="url(#sph)"/><circle cx="579.3" cy="64.5" r="3.2" fill="url(#sph)"/><circle cx="601.6" cy="65.1" r="3.2" fill="url(#sph)"/><circle cx="511.9" cy="70.0" r="3.2" fill="url(#sph)"/><circle cx="558.3" cy="71.3" r="3.2" fill="url(#sph)"/><circle cx="497.1" cy="71.9" r="3.2" fill="url(#sph)"/><circle cx="535.5" cy="72.5" r="3.2" fill="url(#sph)"/><circle cx="583.0" cy="72.5" r="3.2" fill="url(#sph)"/><circle cx="513.1" cy="73.7" r="3.2" fill="url(#sph)"/><circle cx="513.1" cy="73.7" r="3.2" fill="url(#sph)"/><circle cx="607.2" cy="73.7" r="3.2" fill="url(#sph)"/><circle cx="538.6" cy="74.0" r="3.2" fill="url(#sph)"/><circle cx="562.3" cy="74.0" r="3.2" fill="url(#sph)"/><circle cx="518.7" cy="74.3" r="3.2" fill="url(#sph)"/><circle cx="586.5" cy="74.7" r="3.2" fill="url(#sph)"/><circle cx="541.7" cy="75.6" r="3.2" fill="url(#sph)"/><circle cx="610.9" cy="76.2" r="3.2" fill="url(#sph)"/><circle cx="566.3" cy="76.8" r="3.2" fill="url(#sph)"/><circle cx="590.0" cy="76.8" r="3.2" fill="url(#sph)"/><circle cx="482.3" cy="81.1" r="3.2" fill="url(#sph)"/><circle cx="487.2" cy="82.9" r="3.2" fill="url(#sph)"/><circle cx="524.2" cy="83.6" r="3.2" fill="url(#sph)"/><circle cx="546.0" cy="83.6" r="3.2" fill="url(#sph)"/><circle cx="569.4" cy="83.6" r="3.2" fill="url(#sph)"/><circle cx="507.6" cy="84.8" r="3.2" fill="url(#sph)"/><circle cx="596.1" cy="84.8" r="3.2" fill="url(#sph)"/><circle cx="549.7" cy="85.4" r="3.2" fill="url(#sph)"/><circle cx="573.1" cy="85.4" r="3.2" fill="url(#sph)"/><circle cx="507.0" cy="85.6" r="3.2" fill="url(#sph)"/><circle cx="524.2" cy="85.6" r="3.2" fill="url(#sph)"/><circle cx="547.2" cy="85.6" r="3.2" fill="url(#sph)"/><circle cx="571.8" cy="86.2" r="3.2" fill="url(#sph)"/><circle cx="596.0" cy="86.2" r="3.2" fill="url(#sph)"/><circle cx="527.3" cy="86.8" r="3.2" fill="url(#sph)"/><circle cx="550.2" cy="86.8" r="3.2" fill="url(#sph)"/><circle cx="553.4" cy="87.3" r="3.2" fill="url(#sph)"/><circle cx="576.8" cy="87.3" r="3.2" fill="url(#sph)"/><circle cx="599.8" cy="87.3" r="3.2" fill="url(#sph)"/><circle cx="574.9" cy="87.5" r="3.2" fill="url(#sph)"/><circle cx="599.7" cy="87.5" r="3.2" fill="url(#sph)"/><circle cx="553.3" cy="88.1" r="3.2" fill="url(#sph)"/><circle cx="578.0" cy="88.7" r="3.2" fill="url(#sph)"/><circle cx="499.0" cy="93.0" r="3.2" fill="url(#sph)"/><circle cx="505.7" cy="93.4" r="3.2" fill="url(#sph)"/><circle cx="510.0" cy="94.2" r="3.2" fill="url(#sph)"/><circle cx="494.6" cy="95.5" r="3.2" fill="url(#sph)"/><circle cx="533.0" cy="95.5" r="3.2" fill="url(#sph)"/><circle cx="557.6" cy="95.5" r="3.2" fill="url(#sph)"/><circle cx="582.5" cy="95.5" r="3.2" fill="url(#sph)"/><circle cx="537.0" cy="97.0" r="3.2" fill="url(#sph)"/><circle cx="607.7" cy="97.6" r="3.2" fill="url(#sph)"/><circle cx="585.9" cy="97.7" r="3.2" fill="url(#sph)"/><circle cx="518.0" cy="97.9" r="3.2" fill="url(#sph)"/><circle cx="561.0" cy="98.0" r="3.2" fill="url(#sph)"/><circle cx="541.0" cy="98.6" r="3.2" fill="url(#sph)"/><circle cx="589.2" cy="99.8" r="3.2" fill="url(#sph)"/><circle cx="564.4" cy="100.4" r="3.2" fill="url(#sph)"/><circle cx="488.2" cy="103.7" r="3.2" fill="url(#sph)"/><circle cx="493.2" cy="104.1" r="3.2" fill="url(#sph)"/><circle cx="480.5" cy="104.7" r="3.2" fill="url(#sph)"/><circle cx="518.0" cy="106.6" r="3.2" fill="url(#sph)"/><circle cx="520.5" cy="107.2" r="3.2" fill="url(#sph)"/><circle cx="545.3" cy="107.2" r="3.2" fill="url(#sph)"/><circle cx="571.2" cy="107.2" r="3.2" fill="url(#sph)"/><circle cx="503.3" cy="108.2" r="3.2" fill="url(#sph)"/><circle cx="506.9" cy="108.3" r="3.2" fill="url(#sph)"/><circle cx="510.4" cy="108.4" r="3.2" fill="url(#sph)"/><circle cx="595.4" cy="108.4" r="3.2" fill="url(#sph)"/><circle cx="618.2" cy="109.3" r="3.2" fill="url(#sph)"/><circle cx="548.4" cy="109.3" r="3.2" fill="url(#sph)"/><circle cx="574.6" cy="109.3" r="3.2" fill="url(#sph)"/><circle cx="529.3" cy="109.6" r="3.2" fill="url(#sph)"/><circle cx="528.5" cy="110.3" r="3.2" fill="url(#sph)"/><circle cx="600.3" cy="110.9" r="3.2" fill="url(#sph)"/><circle cx="580.0" cy="110.9" r="3.2" fill="url(#sph)"/><circle cx="551.5" cy="111.5" r="3.2" fill="url(#sph)"/><circle cx="578.0" cy="111.5" r="3.2" fill="url(#sph)"/><circle cx="504.5" cy="117.6" r="3.2" fill="url(#sph)"/><circle cx="558.3" cy="117.6" r="3.2" fill="url(#sph)"/><circle cx="500.2" cy="117.7" r="3.2" fill="url(#sph)"/><circle cx="495.9" cy="117.9" r="3.2" fill="url(#sph)"/><circle cx="491.6" cy="118.0" r="3.2" fill="url(#sph)"/><circle cx="528.7" cy="118.9" r="3.2" fill="url(#sph)"/><circle cx="582.5" cy="118.9" r="3.2" fill="url(#sph)"/><circle cx="527.9" cy="119.5" r="3.2" fill="url(#sph)"/><circle cx="531.2" cy="119.5" r="3.2" fill="url(#sph)"/><circle cx="605.9" cy="120.1" r="3.2" fill="url(#sph)"/><circle cx="515.0" cy="120.7" r="3.2" fill="url(#sph)"/><circle cx="586.2" cy="120.8" r="3.2" fill="url(#sph)"/><circle cx="561.3" cy="121.0" r="3.2" fill="url(#sph)"/><circle cx="607.1" cy="121.3" r="3.2" fill="url(#sph)"/><circle cx="518.4" cy="121.7" r="3.2" fill="url(#sph)"/><circle cx="537.3" cy="122.0" r="3.2" fill="url(#sph)"/><circle cx="521.7" cy="122.6" r="3.2" fill="url(#sph)"/><circle cx="589.9" cy="122.6" r="3.2" fill="url(#sph)"/><circle cx="540.8" cy="123.8" r="3.2" fill="url(#sph)"/><circle cx="564.4" cy="124.4" r="3.2" fill="url(#sph)"/><circle cx="544.3" cy="125.7" r="3.2" fill="url(#sph)"/><circle cx="477.4" cy="127.1" r="3.2" fill="url(#sph)"/><circle cx="547.8" cy="127.5" r="3.2" fill="url(#sph)"/><circle cx="570.6" cy="129.4" r="3.2" fill="url(#sph)"/><circle cx="547.2" cy="130.0" r="3.2" fill="url(#sph)"/><circle cx="515.6" cy="130.3" r="3.2" fill="url(#sph)"/><circle cx="592.9" cy="130.6" r="3.2" fill="url(#sph)"/><circle cx="499.6" cy="131.4" r="3.2" fill="url(#sph)"/><circle cx="503.5" cy="131.5" r="3.2" fill="url(#sph)"/><circle cx="507.4" cy="131.5" r="3.2" fill="url(#sph)"/><circle cx="573.0" cy="131.6" r="3.2" fill="url(#sph)"/><circle cx="511.3" cy="131.6" r="3.2" fill="url(#sph)"/><circle cx="592.3" cy="131.8" r="3.2" fill="url(#sph)"/><circle cx="596.3" cy="132.1" r="3.2" fill="url(#sph)"/><circle cx="571.8" cy="132.5" r="3.2" fill="url(#sph)"/><circle cx="596.3" cy="133.1" r="3.2" fill="url(#sph)"/><circle cx="526.7" cy="133.7" r="3.2" fill="url(#sph)"/><circle cx="575.5" cy="133.7" r="3.2" fill="url(#sph)"/><circle cx="599.7" cy="133.7" r="3.2" fill="url(#sph)"/><circle cx="526.2" cy="134.3" r="3.2" fill="url(#sph)"/><circle cx="600.3" cy="134.3" r="3.2" fill="url(#sph)"/><circle cx="526.7" cy="134.9" r="3.2" fill="url(#sph)"/><circle cx="576.7" cy="134.9" r="3.2" fill="url(#sph)"/><circle cx="530.9" cy="135.6" r="3.2" fill="url(#sph)"/><circle cx="547.8" cy="136.2" r="3.2" fill="url(#sph)"/><circle cx="535.5" cy="136.8" r="3.2" fill="url(#sph)"/><circle cx="551.3" cy="137.6" r="3.2" fill="url(#sph)"/><circle cx="554.8" cy="139.1" r="3.2" fill="url(#sph)"/><circle cx="503.0" cy="140.5" r="3.2" fill="url(#sph)"/><circle cx="558.3" cy="140.5" r="3.2" fill="url(#sph)"/><circle cx="498.3" cy="140.6" r="3.2" fill="url(#sph)"/><circle cx="493.7" cy="140.7" r="3.2" fill="url(#sph)"/><circle cx="489.0" cy="140.8" r="3.2" fill="url(#sph)"/><circle cx="582.5" cy="142.9" r="3.2" fill="url(#sph)"/><circle cx="525.4" cy="143.6" r="3.2" fill="url(#sph)"/><circle cx="581.7" cy="143.6" r="3.2" fill="url(#sph)"/><circle cx="604.6" cy="143.8" r="3.2" fill="url(#sph)"/><circle cx="585.9" cy="144.2" r="3.2" fill="url(#sph)"/><circle cx="566.9" cy="144.2" r="3.2" fill="url(#sph)"/><circle cx="526.2" cy="144.2" r="3.2" fill="url(#sph)"/><circle cx="511.3" cy="144.5" r="3.2" fill="url(#sph)"/><circle cx="514.8" cy="145.4" r="3.2" fill="url(#sph)"/><circle cx="589.2" cy="145.4" r="3.2" fill="url(#sph)"/><circle cx="518.2" cy="146.3" r="3.2" fill="url(#sph)"/><circle cx="521.7" cy="147.2" r="3.2" fill="url(#sph)"/><circle cx="534.9" cy="148.2" r="3.2" fill="url(#sph)"/><circle cx="538.6" cy="148.7" r="3.2" fill="url(#sph)"/><circle cx="542.2" cy="149.2" r="3.2" fill="url(#sph)"/><circle cx="545.9" cy="149.7" r="3.2" fill="url(#sph)"/><circle cx="560.1" cy="152.2" r="3.2" fill="url(#sph)"/><circle cx="564.8" cy="152.8" r="3.2" fill="url(#sph)"/><circle cx="569.4" cy="153.4" r="3.2" fill="url(#sph)"/><circle cx="554.6" cy="154.0" r="3.2" fill="url(#sph)"/><circle cx="496.8" cy="154.4" r="3.2" fill="url(#sph)"/><circle cx="501.1" cy="154.4" r="3.2" fill="url(#sph)"/><circle cx="505.3" cy="154.4" r="3.2" fill="url(#sph)"/><circle cx="509.6" cy="154.4" r="3.2" fill="url(#sph)"/><circle cx="591.7" cy="155.3" r="3.2" fill="url(#sph)"/><circle cx="615.1" cy="155.3" r="3.2" fill="url(#sph)"/><circle cx="595.7" cy="156.5" r="3.2" fill="url(#sph)"/><circle cx="578.0" cy="156.9" r="3.2" fill="url(#sph)"/><circle cx="599.7" cy="157.7" r="3.2" fill="url(#sph)"/><circle cx="519.3" cy="158.1" r="3.2" fill="url(#sph)"/><circle cx="525.0" cy="158.3" r="3.2" fill="url(#sph)"/><circle cx="522.9" cy="158.4" r="3.2" fill="url(#sph)"/><circle cx="526.4" cy="158.7" r="3.2" fill="url(#sph)"/><circle cx="530.0" cy="159.0" r="3.2" fill="url(#sph)"/><circle cx="529.6" cy="159.2" r="3.2" fill="url(#sph)"/><circle cx="534.2" cy="160.2" r="3.2" fill="url(#sph)"/><circle cx="549.0" cy="162.6" r="3.2" fill="url(#sph)"/><circle cx="541.0" cy="163.0" r="3.2" fill="url(#sph)"/><circle cx="556.0" cy="163.0" r="3.2" fill="url(#sph)"/><circle cx="490.9" cy="163.9" r="3.2" fill="url(#sph)"/><circle cx="577.4" cy="166.3" r="3.2" fill="url(#sph)"/><circle cx="602.8" cy="167.6" r="3.2" fill="url(#sph)"/><circle cx="507.3" cy="168.2" r="3.2" fill="url(#sph)"/><circle cx="510.6" cy="168.4" r="3.2" fill="url(#sph)"/><circle cx="514.0" cy="168.6" r="3.2" fill="url(#sph)"/><circle cx="588.0" cy="170.0" r="3.2" fill="url(#sph)"/><circle cx="592.3" cy="171.9" r="3.2" fill="url(#sph)"/></g>
<circle cx="548.4" cy="97.9" r="1.1" fill="#e52020"/><circle cx="558.5" cy="97.3" r="1.1" fill="#e52020"/><circle cx="566.3" cy="97.3" r="1.1" fill="#e52020"/><circle cx="553.3" cy="108.2" r="1.1" fill="#e52020"/><circle cx="561.7" cy="109" r="1.1" fill="#e52020"/><circle cx="539.5" cy="111.9" r="1.1" fill="#e52020"/><circle cx="542.5" cy="110.9" r="1.1" fill="#e52020"/><circle cx="540.8" cy="117.6" r="1.1" fill="#e52020"/><circle cx="563.2" cy="118.5" r="1.1" fill="#e52020"/><circle cx="550.3" cy="123.8" r="1.1" fill="#e52020"/>
<line x1="489.4" y1="38.9" x2="620.2" y2="186.8" stroke="#000" stroke-width="1.5" stroke-dasharray="6.7 3.9"/>
</svg></body></html>
